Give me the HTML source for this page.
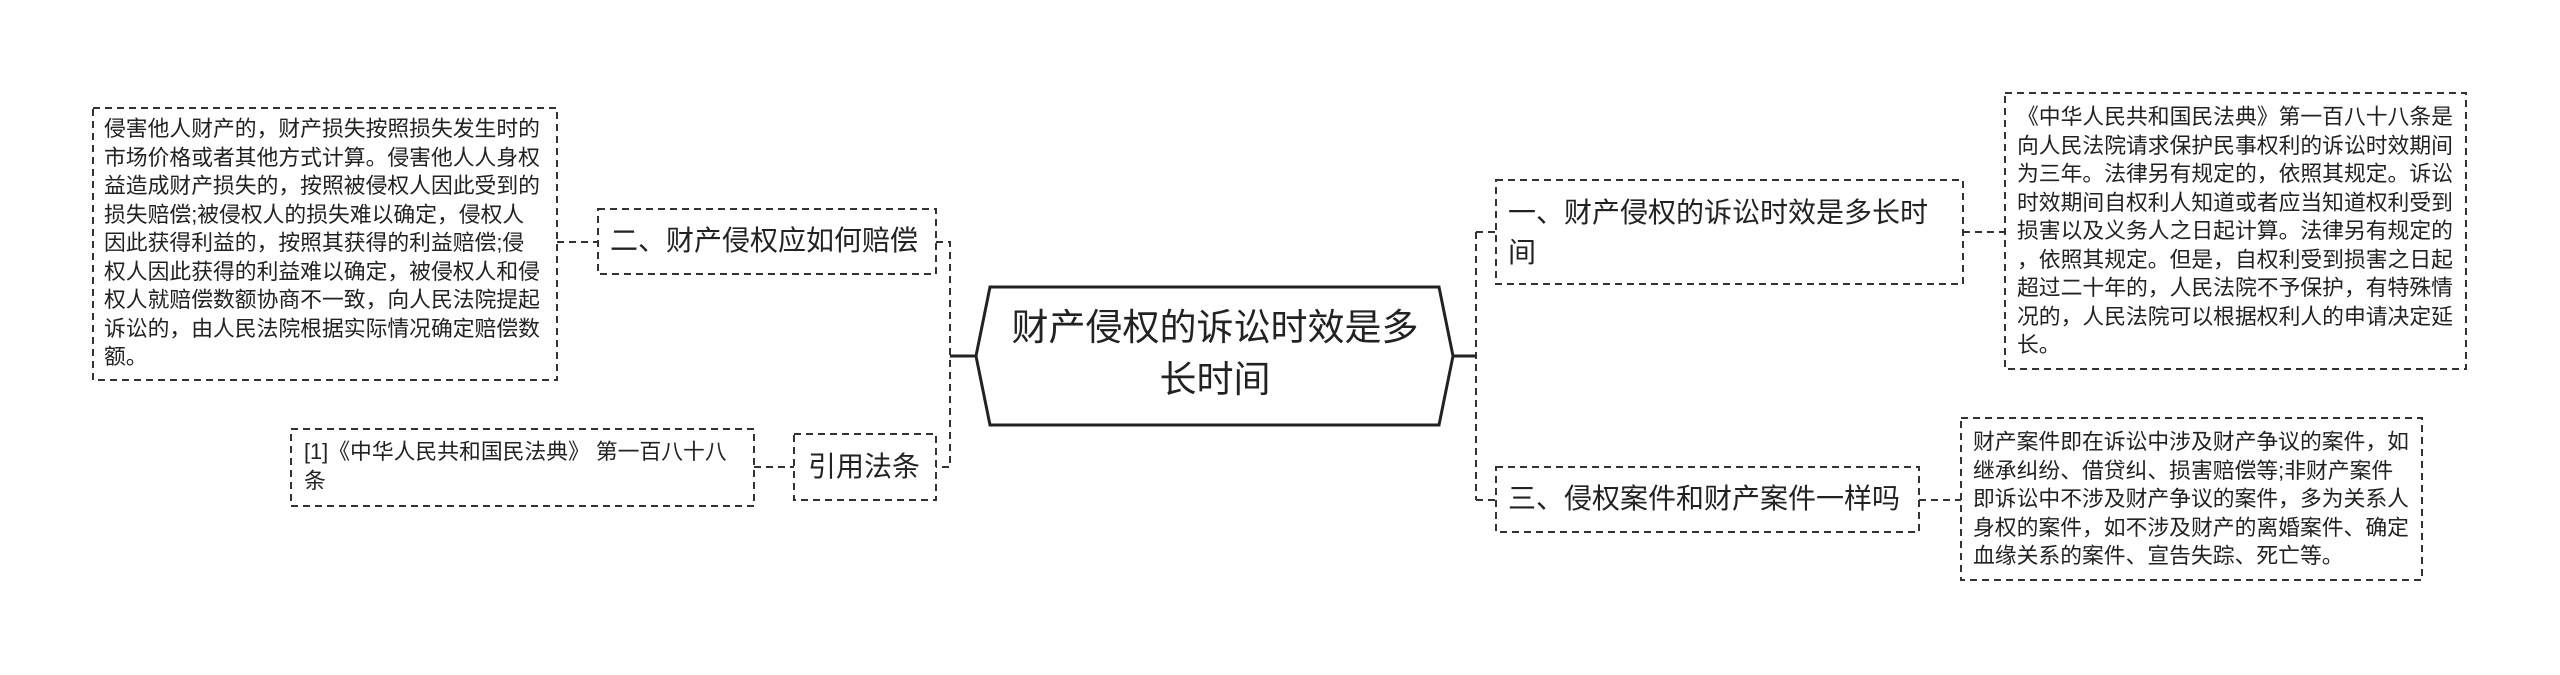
<!DOCTYPE html>
<html><head><meta charset="utf-8"><style>
html,body{margin:0;padding:0;background:#fff;width:2560px;height:675px;overflow:hidden;position:relative;font-family:"Liberation Sans","Noto Sans CJK SC",sans-serif;color:#222}
.t{position:absolute;box-sizing:border-box;}
.d{font-size:21.8px;line-height:28.5px;width:438px;line-break:anywhere}
.n{font-size:28px;line-height:40px;}
</style></head><body>
<svg width="2560" height="675" style="position:absolute;left:0;top:0">
<g fill="none" stroke="#333" stroke-width="2" stroke-dasharray="7 5">
<rect x="93" y="108" width="464" height="272"/>
<rect x="598" y="209" width="338" height="65"/>
<rect x="291" y="429" width="463" height="77"/>
<rect x="794" y="434" width="142" height="66"/>
<rect x="1496" y="180" width="467" height="104"/>
<rect x="2005" y="93" width="461" height="276"/>
<rect x="1496" y="467" width="423" height="65"/>
<rect x="1961" y="418" width="461" height="162"/>
<path d="M557 242H598 M754 467H794 M936 242H950V467H936 M1476 500H1496 M1476 232V500 M1476 232H1496 M1963 232H2005 M1919 500H1961"/>
</g>
<g fill="none" stroke="#222" stroke-width="3">
<path d="M950 356H976 M1453 356H1476"/>
<path d="M976 356L990 287H1439L1453 356L1439 425H990Z"/>
</g>
</svg>
<div class="t d" style="left:104px;top:115px">侵害他人财产的，财产损失按照损失发生时的市场价格或者其他方式计算。侵害他人人身权益造成财产损失的，按照被侵权人因此受到的损失赔偿;被侵权人的损失难以确定，侵权人因此获得利益的，按照其获得的利益赔偿;侵权人因此获得的利益难以确定，被侵权人和侵权人就赔偿数额协商不一致，向人民法院提起诉讼的，由人民法院根据实际情况确定赔偿数额。</div>
<div class="t n" style="left:610px;top:221px;width:330px">二、财产侵权应如何赔偿</div>
<div class="t d" style="left:304px;top:438px;width:432px">[1]《中华人民共和国民法典》 第一百八十八条</div>
<div class="t n" style="left:808px;top:447px">引用法条</div>
<div class="t" style="left:1003px;top:302px;width:424px;font-size:37px;line-height:52px;text-align:center">财产侵权的诉讼时效是多长时间</div>
<div class="t n" style="left:1508px;top:193px;width:440px">一、财产侵权的诉讼时效是多长时间</div>
<div class="t d" style="left:2017px;top:103px">《中华人民共和国民法典》第一百八十八条是向人民法院请求保护民事权利的诉讼时效期间为三年。法律另有规定的，依照其规定。诉讼时效期间自权利人知道或者应当知道权利受到损害以及义务人之日起计算。法律另有规定的，依照其规定。但是，自权利受到损害之日起超过二十年的，人民法院不予保护，有特殊情况的，人民法院可以根据权利人的申请决定延长。</div>
<div class="t n" style="left:1508px;top:479px;width:420px">三、侵权案件和财产案件一样吗</div>
<div class="t d" style="left:1973px;top:428px">财产案件即在诉讼中涉及财产争议的案件，如继承纠纷、借贷纠、损害赔偿等;非财产案件即诉讼中不涉及财产争议的案件，多为关系人身权的案件，如不涉及财产的离婚案件、确定血缘关系的案件、宣告失踪、死亡等。</div>
</body></html>
